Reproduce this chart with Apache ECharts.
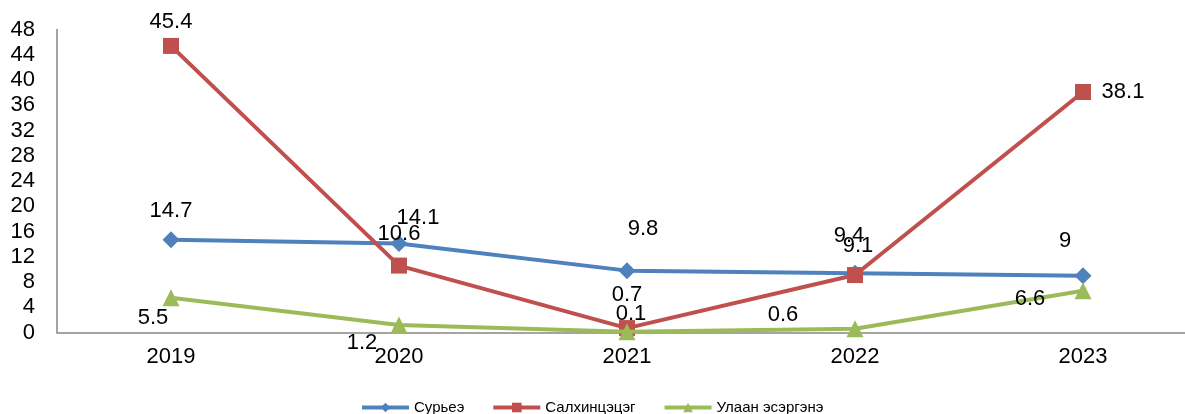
<!DOCTYPE html>
<html><head><meta charset="utf-8">
<script src="https://cdn.jsdelivr.net/npm/echarts@6/dist/echarts.min.js"></script>
<style>html,body{margin:0;padding:0;background:#fff;overflow:hidden}#c{width:1197px;height:414px}</style>
</head><body><div id="c"></div>
<script>
const categories = ['2019', '2020', '2021', '2022', '2023'];
const seriesNames = ['Сурьеэ', 'Салхинцэцэг', 'Улаан эсэргэнэ'];
const suryee = [14.7, 14.1, 9.8, 9.4, 9];
const salkhi = [45.4, 10.6, 0.7, 9.1, 38.1];
const ulaan = [5.5, 1.2, 0.1, 0.6, 6.6];
const yTicks = { min: 0, max: 48, interval: 4 };

// label placement (style only)
const offsBlue = [[0,-29],[19,-26],[16,-42],[-6,-37],[-18,-35]];
const offsRed = [[0,-24],[0,-32],[0,-33],[3,-29],[40,0]];
const offsGreen = [[-18,20],[-37,18],[4,-18],[-72,-14],[-53,8]];
const colors = ['#4F81BD', '#C0504D', '#9BBB59'];
const FONT = 'Liberation Sans, Arial, sans-serif';

function mk(values, offs) {
  return values.map((v, i) => ({
    value: v,
    label: { show: true, position: 'inside', offset: offs[i], align: 'center', verticalAlign: 'middle',
      color: '#000', fontSize: 22, fontFamily: FONT }
  }));
}
const chart = echarts.init(document.getElementById('c'), null, { renderer: 'canvas' });
chart.setOption({
  animation: false,
  color: colors,
  grid: { left: 57, right: 0, top: 29.5, height: 303, containLabel: false },
  legend: {
    top: 395, left: 355, itemWidth: 47, itemHeight: 12, itemGap: 27,
    lineStyle: { width: 4 },
    textStyle: { fontSize: 15, color: '#000', fontFamily: FONT },
    data: seriesNames
  },
  xAxis: {
    type: 'category', data: categories, boundaryGap: true,
    axisLine: { lineStyle: { color: '#868686', width: 1.5 } },
    axisTick: { show: false },
    axisLabel: { fontSize: 22, color: '#000', margin: 13, fontFamily: FONT }
  },
  yAxis: {
    type: 'value', min: yTicks.min, max: yTicks.max, interval: yTicks.interval,
    axisLine: { show: true, lineStyle: { color: '#868686', width: 1.5 } },
    axisTick: { show: false },
    splitLine: { show: false },
    axisLabel: { fontSize: 22, color: '#000', margin: 22, fontFamily: FONT }
  },
  series: [
    { name: seriesNames[0], type: 'line', data: mk(suryee, offsBlue), symbol: 'diamond', symbolSize: 17,
      lineStyle: { width: 4 }, z: 3 },
    { name: seriesNames[1], type: 'line', data: mk(salkhi, offsRed), symbol: 'rect', symbolSize: 16,
      lineStyle: { width: 4 }, z: 4 },
    { name: seriesNames[2], type: 'line', data: mk(ulaan, offsGreen), symbol: 'triangle', symbolSize: 17,
      lineStyle: { width: 4 }, z: 5 }
  ]
});
</script></body></html>
